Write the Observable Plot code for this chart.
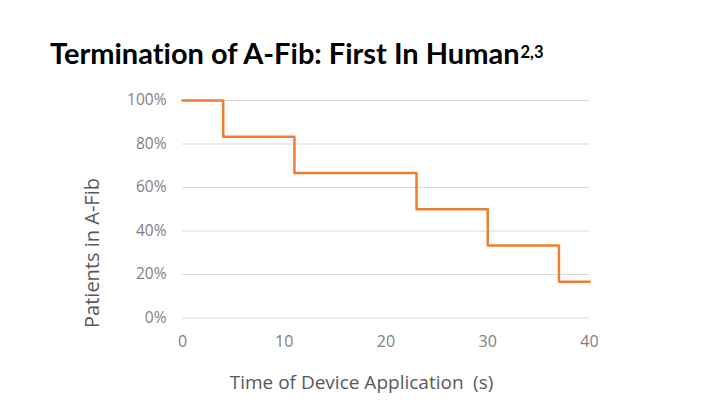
<!DOCTYPE html>
<html><head><meta charset="utf-8">
<script src="https://cdn.jsdelivr.net/npm/d3@7"></script>
<script src="https://cdn.jsdelivr.net/npm/@observablehq/plot@0.6"></script>
<style>
html,body{margin:0;padding:0;background:#fff;}
body{width:703px;height:412px;overflow:hidden;position:relative;}
#title{position:absolute;left:50px;top:37px;font-family:Lato,"Open Sans",sans-serif;font-weight:bold;font-size:29px;color:#000;white-space:nowrap;line-height:32px;font-variant-ligatures:none;font-feature-settings:"liga" 0;}
#title sup{font-size:16.5px;vertical-align:top;position:relative;top:-1px;margin-left:1px;}
#chart{position:absolute;left:0;top:80px;}
</style>
</head><body>
<div id="title">Termination of A-Fib: First In Human<sup>2,3</sup></div>
<div id="chart"></div>
<script>
const times = [0, 4, 11, 23, 30, 37, 40];
const shares = [1, 0.8333, 0.6667, 0.5, 0.3333, 0.1667, 0.1667];
const xTicks = [0, 10, 20, 30, 40];
const yTicks = [0, 0.2, 0.4, 0.6, 0.8, 1.0];
const yTickLabels = ["0%", "20%", "40%", "60%", "80%", "100%"];
const xTitle = "Time of Device Application\u2002(s)";
const yTitle = "Patients in A-Fib";

const rows = times.map((t, i) => ({t, v: shares[i]}));
const font = "'Open Sans', sans-serif";

const chart = Plot.plot({
  width: 703,
  height: 332,
  marginLeft: 182,
  marginRight: 114,
  marginTop: 20,
  marginBottom: 94.5,
  style: {fontFamily: font, background: "transparent"},
  x: {domain: [0, 40]},
  y: {domain: [0, 1]},
  marks: [
    Plot.gridY(yTicks, {stroke: "#d9d9d9", strokeOpacity: 1, strokeWidth: 1}),
    Plot.axisY(yTicks, {tickSize: 0, tickPadding: 16, fontSize: 15.5, fill: "#7f7f7f",
      tickFormat: d => yTickLabels[yTicks.indexOf(d)], label: null}),
    Plot.axisX(xTicks, {tickSize: 0, tickPadding: 18, fontSize: 16, fill: "#7f7f7f", label: null}),
    Plot.line(rows, {x: "t", y: "v", curve: "step-after", stroke: "#ED7D31", strokeWidth: 2.5}),
    Plot.text([yTitle], {frameAnchor: "left", rotate: -90, dx: -90, dy: 43.75, fontSize: 20, fill: "#595959", textAnchor: "middle", lineAnchor: "middle"}),
    Plot.text([xTitle], {frameAnchor: "bottom", dx: -24.5, dy: 64.5, fontSize: 19, fill: "#595959", textAnchor: "middle", lineAnchor: "middle"})
  ]
});
document.getElementById("chart").appendChild(chart);
</script>
</body></html>
